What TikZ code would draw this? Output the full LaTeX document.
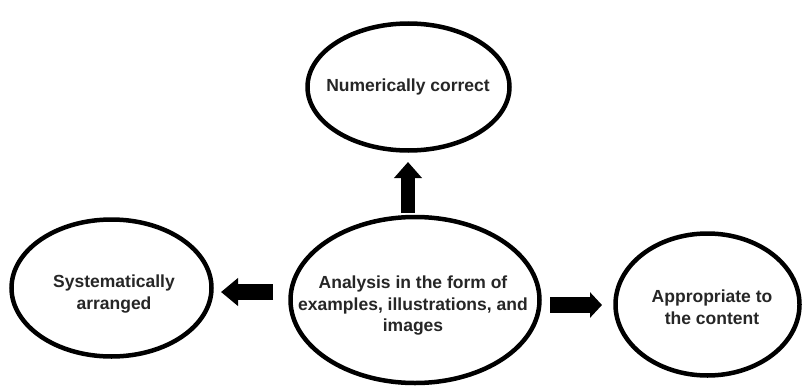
\documentclass[tikz,border=0pt]{standalone}
\usepackage{fontspec}
\setmainfont{Liberation Sans}
\usetikzlibrary{shapes.geometric,arrows.meta}
\tikzset{
  oval/.style={ellipse, draw=black, line width=4.5pt, fill=white, inner sep=0pt},
  lbl/.style={align=center, font=\fontsize{17.5}{21.5}\selectfont\bfseries, text=black!85},
}
\begin{document}
\begin{tikzpicture}[x=1pt,y=-1pt]
\useasboundingbox (0,0) rectangle (811,388);
\node[oval, minimum width=249pt, minimum height=166pt] (c) at (415,300) {};
\node[oval, minimum width=202pt, minimum height=127pt] (t) at (408.5,87) {};
\node[oval, minimum width=200pt, minimum height=137pt] (l) at (111.5,288) {};
\node[oval, minimum width=184pt, minimum height=142pt] (r) at (707.5,304.5) {};
\node[lbl] (ct) at (413,306) {Analysis in the form of\\examples, illustrations, and\\images};
\node[lbl] (tt) at (408,87) {Numerically correct};
\node[lbl] (lt) at (114,294) {Systematically\\arranged};
\node[lbl] (rt) at (712,307) {Appropriate to\\the content};
% block arrows
\coordinate (ua0) at (408,213);
\coordinate (ua1) at (408,162);
\coordinate (la0) at (273,292);
\coordinate (la1) at (221,292);
\coordinate (ra0) at (550,305);
\coordinate (ra1) at (602,305);
\draw[line width=14pt, -{Triangle[width=27pt,length=16pt]}] (ua0) -- (ua1);
\draw[line width=16pt, -{Triangle[width=27pt,length=17pt]}] (la0) -- (la1);
\draw[line width=16pt, -{Triangle[width=25pt,length=12pt]}] (ra0) -- (ra1);
\end{tikzpicture}
\end{document}
